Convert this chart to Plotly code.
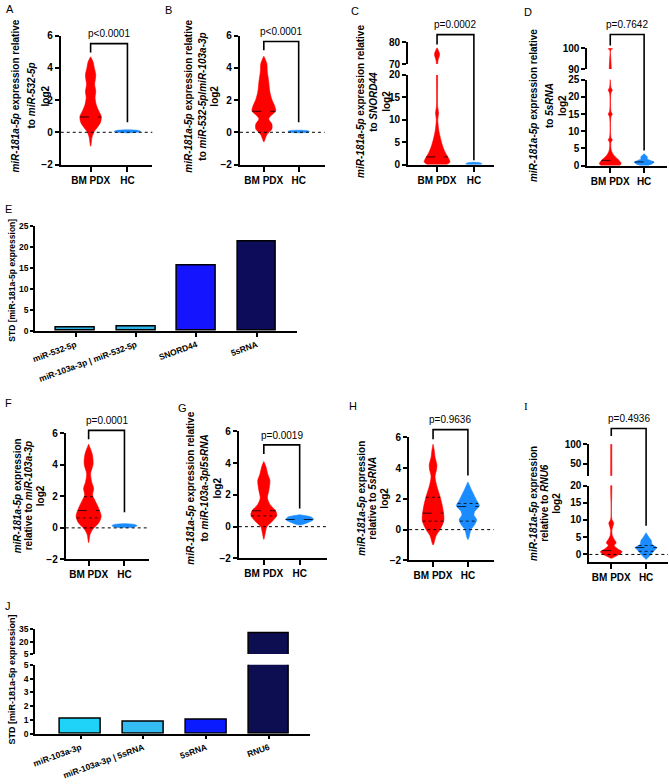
import numpy as np
import plotly.graph_objects as go

# ---------------- data ----------------
groups = ["BM PDX", "HC"]
p_values = ["p<0.0001", "p<0.0001", "p=0.0002", "p=0.7642",
            "p=0.0001", "p=0.0019", "p=0.9636", "p=0.4936"]

# violin outlines: y value and half width (fraction of group spacing)
a_bm_y = [-0.87, -0.3, 0.02, 0.33, 0.63, 0.98, 1.32, 1.73, 2.14, 2.54, 2.95, 3.56, 3.99, 4.35, 4.68]
a_bm_w = [0.0, 0.04, 0.09, 0.19, 0.27, 0.29, 0.22, 0.15, 0.12, 0.14, 0.11, 0.14, 0.10, 0.07, 0.0]
a_hc_y = [-0.03, 0.0, 0.06, 0.12, 0.15]
a_hc_w = [0.0, 0.27, 0.36, 0.27, 0.0]
a_bm_med = 0.95

b_bm_y = [-0.6, -0.4, -0.14, 0.2, 0.51, 0.82, 1.02, 1.32, 1.63, 2.03, 2.54, 3.15, 3.76, 4.27, 4.72]
b_bm_w = [0.0, 0.04, 0.09, 0.23, 0.23, 0.14, 0.2, 0.34, 0.31, 0.23, 0.17, 0.14, 0.1, 0.085, 0.0]
b_hc_y = [-0.03, 0.0, 0.05, 0.1, 0.13]
b_hc_w = [0.0, 0.25, 0.31, 0.25, 0.0]
b_bm_med = 1.3

c_bm_y = [-0.8, 0.0, 0.6, 1.3, 2.4, 3.9, 5.3, 7.5, 10.0, 11.5, 13.0, 19.5, 70.0, 72.0, 74.5, 76.5, 77.5]
c_bm_w = [0.0, 0.27, 0.35, 0.32, 0.24, 0.16, 0.11, 0.05, 0.02, 0.04, 0.016, 0.016, 0.016, 0.03, 0.07, 0.03, 0.0]
c_hc_y = [-0.1, 0.0, 0.2, 0.4, 0.5]
c_hc_w = [0.0, 0.2, 0.22, 0.15, 0.0]
c_bm_med = 1.7

d_bm_y = [-0.5, 0.0, 0.6, 1.5, 2.5, 3.2, 4.0, 5.0, 6.8, 7.5, 8.2, 14.2, 15.0, 15.8,
          21.2, 22.0, 22.8, 99.3, 99.8, 100.3]
d_bm_w = [0.2, 0.28, 0.32, 0.26, 0.15, 0.09, 0.045, 0.02, 0.02, 0.06, 0.02, 0.02, 0.06, 0.02,
          0.02, 0.06, 0.02, 0.02, 0.07, 0.0]
d_hc_y = [-0.3, 0.0, 0.5, 1.0, 1.5, 2.0, 2.4, 2.9, 3.45]
d_hc_w = [0.0, 0.12, 0.24, 0.29, 0.18, 0.09, 0.1, 0.06, 0.0]
d_bm_med = 1.5
d_hc_med = 1.05

f_bm_y = [-0.94, -0.42, -0.1, 0.31, 0.73, 1.25, 1.77, 2.08, 2.5, 2.92, 3.44, 4.06, 4.69, 5.31]
f_bm_w = [0.0, 0.04, 0.11, 0.28, 0.35, 0.28, 0.17, 0.11, 0.14, 0.085, 0.055, 0.125, 0.10, 0.0]
f_hc_y = [0.02, 0.06, 0.14, 0.22, 0.27]
f_hc_w = [0.0, 0.28, 0.35, 0.28, 0.0]
f_bm_med = 1.1
f_bm_q = [0.63, 1.98]

g_bm_y = [-0.8, -0.4, 0.0, 0.3, 0.7, 1.0, 1.4, 1.8, 2.3, 2.9, 3.3, 3.8, 4.1]
g_bm_w = [0.0, 0.04, 0.085, 0.22, 0.36, 0.33, 0.17, 0.1, 0.14, 0.17, 0.11, 0.055, 0.0]
g_hc_y = [0.1, 0.25, 0.45, 0.6, 0.75]
g_hc_w = [0.0, 0.22, 0.39, 0.33, 0.0]
g_bm_med = 1.0
g_bm_q = [0.68]
g_hc_med = 0.45

h_bm_y = [-1.0, -0.85, -0.4, 0.0, 0.6, 1.07, 1.6, 2.15, 2.8, 3.45, 3.9, 4.2, 4.7, 5.2, 5.55]
h_bm_w = [0.0, 0.03, 0.086, 0.2, 0.31, 0.3, 0.26, 0.2, 0.11, 0.057, 0.1, 0.11, 0.057, 0.03, 0.0]
h_hc_y = [-0.65, -0.4, 0.0, 0.35, 0.65, 0.95, 1.2, 1.55, 1.9, 2.55, 3.1]
h_hc_w = [0.0, 0.043, 0.086, 0.2, 0.25, 0.17, 0.2, 0.33, 0.25, 0.11, 0.0]
h_bm_med = 1.07
h_bm_q = [0.55, 2.1]
h_hc_med = 1.5
h_hc_q = [0.55, 1.7]

i_bm_y = [-1.1, -0.6, 0.0, 0.8, 1.5, 2.6, 3.4, 4.3, 5.5, 7.0, 8.0, 9.1, 10.2, 20.0,
          100.0, 103.0, 105.0, 107.0]
i_bm_w = [0.0, 0.11, 0.23, 0.31, 0.2, 0.086, 0.14, 0.086, 0.03, 0.017, 0.04, 0.07, 0.017, 0.017,
          0.017, 0.02, 0.05, 0.0]
i_hc_y = [-1.4, -0.9, 0.0, 1.1, 2.0, 2.9, 4.0, 4.9, 6.3]
i_hc_w = [0.0, 0.057, 0.14, 0.23, 0.31, 0.17, 0.15, 0.086, 0.0]
i_bm_med = 1.1
i_hc_med = 2.0
i_hc_q = [0.9, 2.6]

e_labels = ["miR-532-5p", "miR-103a-3p | miR-532-5p", "SNORD44", "5sRNA"]
e_std = [0.8, 0.95, 15.4, 21.3]
j_labels = ["miR-103a-3p", "miR-103a-3p | 5sRNA", "5sRNA", "RNU6"]
j_std = [1.05, 0.87, 1.02, 30.0]

# ---------------- styling / placement ----------------
W, H = 669, 784
FONT = "Liberation Sans"
RED = "#ff0000"
BLUE = "#1b8cff"
e_colors = ["#2bb3e6", "#2bb3e6", "#1414ff", "#0c0c5a"]
j_colors = ["#1fd2f7", "#33bdf2", "#0a1cff", "#0d0d52"]

fig = go.Figure()
lay = {}
shapes, annos = [], []


def fx(p):
    return p / W


def fy(p):
    return 1 - p / H


def axis(lw, tl, fs):
    return dict(showline=True, linecolor="black", linewidth=lw, ticks="outside", ticklen=tl,
                tickwidth=lw, tickcolor="black", showgrid=False, zeroline=False, fixedrange=True,
                tickfont=dict(family=FONT, size=fs, color="black", weight="bold"))


def to_paper(segs, v):
    seg = None
    for s in segs:
        if s[2][0] <= v <= s[2][1]:
            seg = s
    if seg is None:
        seg = segs[-1] if v > segs[-1][2][1] else segs[0]
    top, bot, rng, _ = seg
    p = bot + (v - rng[0]) / (rng[1] - rng[0]) * (top - bot)
    return fy(p)


def make_axes(n, xdom, xrng, segs, upper, lw, tl, fs, labels, angle=0):
    xa = axis(lw, tl, fs)
    xa.update(domain=[fx(xdom[0]), fx(xdom[1])], range=xrng, anchor=f"y{n}",
              tickvals=list(range(len(labels))), ticktext=labels, tickangle=angle)
    lay[f"xaxis{n}"] = xa
    ids = [n] + ([upper] if len(segs) > 1 else [])
    for yid, (top, bot, rng, tv) in zip(ids, segs):
        ya = axis(lw, tl - 1, fs)
        ya.update(domain=[fy(bot), fy(top)], range=rng, anchor=f"x{n}", tickvals=tv)
        lay[f"yaxis{yid}"] = ya
    return ids


def add_violin(n, yids, center, ys, ws, color):
    ys = np.array(ys, dtype=float)
    ws = np.array(ws, dtype=float)
    x = np.concatenate([center - ws, (center + ws)[::-1]])
    y = np.concatenate([ys, ys[::-1]])
    for yid in yids:
        fig.add_trace(go.Scatter(x=x, y=y, xaxis=f"x{n}", yaxis=f"y{yid}", mode="lines",
                                 fill="toself", fillcolor=color,
                                 line=dict(color=color, width=0.6, shape="spline", smoothing=0.8),
                                 hoverinfo="skip"))


def add_stat(n, segs, yids, center, ys, ws, v, dash):
    w = float(np.interp(v, ys, ws))
    yid = yids[0]
    for s, i in zip(segs, yids):
        if s[2][0] <= v <= s[2][1]:
            yid = i
    fig.add_trace(go.Scatter(x=[center - w, center + w], y=[v, v], xaxis=f"x{n}", yaxis=f"y{yid}",
                             mode="lines", line=dict(color="black", width=0.8, dash=dash),
                             hoverinfo="skip"))


def text(x, y, s, size, angle=0, xanchor="center", yanchor="middle", family=FONT):
    annos.append(dict(x=x, y=y, xref="paper", yref="paper", text=s, showarrow=False,
                      textangle=angle, xanchor=xanchor, yanchor=yanchor,
                      font=dict(family=family, size=size, color="black")))


T1 = "<b><i>miR-181a-5p</i> expression relative</b>"
T1s = "<b><i>miR-181a-5p</i> expression</b>"
LOG = "<b>log2</b>"

panels = [
    dict(n=2, pos=(58, 88, 125, 150), segs=[(30, 161, [-2, 6], [-2, 0, 2, 4, 6])],
         bm=(a_bm_y, a_bm_w, a_bm_med, []), hc=(a_hc_y, a_hc_w, None, []),
         bracket=(5.5, 4.95, 0.63), zero=True,
         title=[T1, "<b>to <i>miR-532-5p</i></b>", LOG], tx=(13, 29, 43), ty=91,
         letter=("A", 1, -5)),
    dict(n=3, pos=(238, 262, 297, 323), segs=[(30, 161, [-2, 6], [-2, 0, 2, 4, 6])],
         bm=(b_bm_y, b_bm_w, b_bm_med, []), hc=(b_hc_y, b_hc_w, None, []),
         bracket=(5.63, 5.09, 0.62), zero=True,
         title=[T1, "<b>to <i>miR-532-5p</i>/<i>miR-103a-3p</i></b>", LOG], tx=(186, 200, 213), ty=92,
         letter=("B", 161, -4)),
    dict(n=4, pos=(407, 436, 473, 493),
         segs=[(70, 161, [0, 20], [0, 5, 10, 15, 20]), (37, 59, [70, 80], [70, 80])], upper=12,
         bm=(c_bm_y, c_bm_w, c_bm_med, []), hc=(c_hc_y, c_hc_w, None, []),
         bracket=(83.6, 79.0, 0.95), zero=False,
         title=[T1, "<b>to <i>SNORD44</i></b>", LOG], tx=(359, 372, 385), ty=97,
         letter=("C", 348, -3)),
    dict(n=5, pos=(587, 610, 644, 667),
         segs=[(75, 162, [0, 25], [0, 5, 10, 15, 20, 25]), (43, 64, [90, 100], [90, 100])], upper=13,
         bm=(d_bm_y, d_bm_w, d_bm_med, []), hc=(d_hc_y, d_hc_w, d_hc_med, []),
         bracket=(106.7, 101.4, 4.4), zero=False,
         title=[T1, "<b>to <i>5sRNA</i></b>", LOG], tx=(533, 549, 562), ty=101,
         letter=("D", 521, -2)),
    dict(n=6, pos=(63, 86, 122, 147), segs=[(434, 562, [-2, 6], [-2, 0, 2, 4, 6])],
         bm=(f_bm_y, f_bm_w, f_bm_med, f_bm_q), hc=(f_hc_y, f_hc_w, None, []),
         bracket=(6.19, 5.62, 1.0), zero=True,
         title=[T1s, "<b>relative to <i>miR-103a-3p</i></b>", LOG], tx=(14, 26, 38), ty=497,
         letter=("F", 0, 395)),
    dict(n=7, pos=(237, 262, 298, 325), segs=[(432, 561, [-2, 6], [-2, 0, 2, 4, 6])],
         bm=(g_bm_y, g_bm_w, g_bm_med, g_bm_q), hc=(g_hc_y, g_hc_w, g_hc_med, []),
         bracket=(5.15, 4.57, 1.15), zero=True,
         title=[T1, "<b>to <i>miR-103a-3p</i>/<i>5sRNA</i></b>", LOG], tx=(188, 202, 215), ty=490,
         letter=("G", 174, 400)),
    dict(n=8, pos=(408, 432, 467, 493), segs=[(438, 563, [-2, 6], [-2, 0, 2, 4, 6])],
         bm=(h_bm_y, h_bm_w, h_bm_med, h_bm_q), hc=(h_hc_y, h_hc_w, h_hc_med, h_hc_q),
         bracket=(6.5, 5.87, 3.52), zero=True,
         title=[T1s, "<b>relative to <i>5sRNA</i></b>", LOG], tx=(360, 371, 383), ty=500,
         letter=("H", 346, 398)),
    dict(n=9, pos=(589, 611, 646, 668),
         segs=[(487, 565, [-2.3, 20], [0, 5, 10, 15, 20]), (445, 477, [20, 100], [50, 100])], upper=14,
         bm=(i_bm_y, i_bm_w, i_bm_med, []), hc=(i_hc_y, i_hc_w, i_hc_med, i_hc_q),
         bracket=(140, 121, 8.3), zero=True,
         title=[T1s, "<b>relative to <i>RNU6</i></b>", LOG], tx=(533, 544, 556), ty=505,
         letter=("I", 521, 398)),
]

for k, P in enumerate(panels):
    n = P["n"]
    ax, c0, c1, end = P["pos"]
    sp = c1 - c0
    xrng = [(ax - c0) / sp, 1 + (end - c1) / sp]
    segs = P["segs"]
    yids = make_axes(n, (ax, end), xrng, segs, P.get("upper"), 2, 5, 10, groups)

    if P["zero"]:
        shapes.append(dict(type="line", xref=f"x{n} domain", x0=0, x1=1, yref=f"y{n}", y0=0, y1=0,
                           line=dict(color="black", width=1, dash="dot"), layer="above"))

    for center, (ys, ws, med, qs), color in [(0, P["bm"], RED), (1, P["hc"], BLUE)]:
        add_violin(n, yids, center, ys, ws, color)
        if med is not None:
            add_stat(n, segs, yids, center, ys, ws, med, "dash")
        for q in qs:
            add_stat(n, segs, yids, center, ys, ws, q, "dot")

    top, left, right = P["bracket"]
    pt, pl, pr = to_paper(segs, top), to_paper(segs, left), to_paper(segs, right)
    shapes.append(dict(type="path", xref=f"x{n}", yref="paper",
                       path=f"M 0,{pl} L 0,{pt} L 1,{pt} L 1,{pr}",
                       line=dict(color="black", width=1.6)))
    annos.append(dict(x=0.5, xref=f"x{n}", y=pt + 10 / H, yref="paper", text=p_values[k],
                      showarrow=False, xanchor="center", yanchor="middle",
                      font=dict(family=FONT, size=10, color="black")))

    for line, x in zip(P["title"], P["tx"]):
        text(fx(x), fy(P["ty"]), line, 10, angle=-90)
    lt, lx, ly = P["letter"]
    text(fx(lx), fy(ly), lt, 11, xanchor="left", yanchor="top",
         family="Liberation Serif" if lt == "I" else FONT)

# ---- panel E: bar chart ----
e_sp = 60.7
make_axes(10, (32, 295), [(32 - 73) / e_sp, 3 + (295 - 255) / e_sp],
          [(223, 330, [0, 25], [0, 5, 10, 15, 20, 25])], None, 1.5, 4, 8.5, e_labels, angle=-20)
fig.add_trace(go.Bar(x=list(range(len(e_std))), y=e_std, width=0.64, xaxis="x10", yaxis="y10",
                     marker=dict(color=e_colors, line=dict(color="black", width=1.5)),
                     hoverinfo="skip"))
text(fx(9), fy(278), "<b>STD [miR-181a-5p expression]</b>", 8.5, angle=-90)
text(fx(0), fy(198), "E", 11, xanchor="left", yanchor="top")

# ---- panel J: bar chart with broken axis ----
j_sp = 63
j_ids = make_axes(11, (32, 308), [(32 - 78) / j_sp, 3 + (308 - 267) / j_sp],
                  [(669, 739, [0, 5], [0, 1, 2, 3, 4, 5]), (633, 658, [5, 35], [5, 20, 35])],
                  15, 1.5, 4, 8.5, j_labels, angle=-20)
for yid in j_ids:
    fig.add_trace(go.Bar(x=list(range(len(j_std))), y=j_std, width=0.65, xaxis="x11",
                         yaxis=f"y{yid}",
                         marker=dict(color=j_colors, line=dict(color="black", width=1.5)),
                         hoverinfo="skip"))
text(fx(9), fy(684), "<b>STD [miR-181a-5p expression]</b>", 9, angle=-90)
text(fx(0), fy(601), "J", 11, xanchor="left", yanchor="top")

lay.update(width=W, height=H, margin=dict(l=0, r=0, t=0, b=0), showlegend=False,
           plot_bgcolor="white", paper_bgcolor="white",
           font=dict(family=FONT, color="black"), shapes=shapes, annotations=annos,
           bargap=0)
fig.update_layout(**lay)
# the page's default body margin would shift the figure by 8px
fig.write_html("out.html", config={"displayModeBar": False},
               post_script="document.body.style.margin='0';document.body.style.overflow='hidden';")
